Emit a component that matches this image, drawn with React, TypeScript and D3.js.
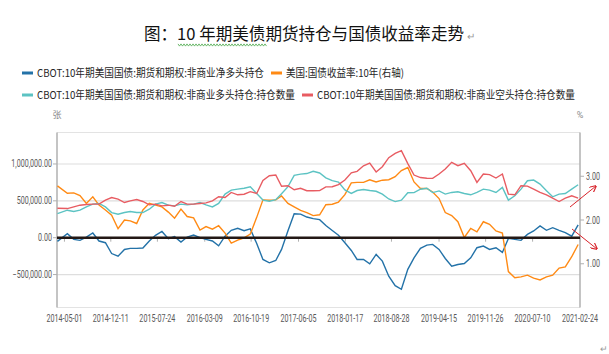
import * as d3 from "d3";

const width = 609;
const height = 354;
const margin = { top: 132.5, right: 29, bottom: 46.5, left: 57 };

// monthly readings (thousand contracts), Apr 2014 .. Feb 2021
const netLongK = [
  -50, 55, -23, -36, 9, 64, -45, -68, -215, -250, -160, -145, -145, -140, -45, 32, 85, -14, 14, -60,
  9, 35, 0, -23, -45, -110, 20, 100, 127, 95, 120, -80, -295, -341, -309, -159, 95, 325, 320, 280,
  258, 245, 165, 98, 33, -68, -173, -295, -295, -355, -227, -318, -523, -650, -700, -430, -273, -145, -100, -91,
  -159, -282, -386, -364, -350, -273, -136, -114, -159, -136, -200, -10, -23, -36, 45, 91, 159, 100, 136, 100,
  68, 20, 173,
];
const longPosK = [
  327, 373, 355, 373, 418, 455, 464, 418, 341, 318, 341, 355, 341, 341, 386, 455, 477, 441, 432, 455,
  445, 455, 477, 445, 418, 464, 591, 645, 659, 670, 690, 600, 510, 495, 515, 595, 692, 845, 862, 870,
  900, 878, 812, 774, 755, 648, 600, 640, 653, 640, 630, 590, 525, 490, 510, 610, 612, 658, 671, 612,
  635, 591, 614, 623, 600, 582, 614, 659, 645, 614, 682, 509, 568, 659, 773, 782, 727, 636, 555, 591,
  600, 659, 718,
];
const shortPosK = [
  400, 395, 418, 441, 450, 455, 455, 509, 545, 523, 477, 500, 518, 491, 445, 455, 432, 441, 427, 491,
  455, 455, 464, 473, 500, 555, 545, 614, 582, 590, 625, 600, 778, 840, 850, 698, 705, 650, 670, 637,
  637, 639, 690, 692, 720, 782, 880, 900, 975, 1011, 891, 963, 1086, 1144, 1180, 1005, 850, 816, 807, 805,
  864, 932, 1023, 977, 1010, 909, 750, 864, 855, 809, 864, 591, 582, 705, 700, 659, 614, 582, 536, 491,
  536, 568, 536,
];
const yield10y = [
  2.78, 2.61, 2.62, 2.56, 2.38, 2.53, 2.34, 2.23, 2.11, 1.8, 2.0, 1.98, 1.92, 2.23, 2.38, 2.34, 2.3, 2.18, 2.04, 2.25,
  2.08, 2.05, 1.77, 1.85, 1.79, 1.87, 1.7, 1.47, 1.54, 1.59, 1.68, 2.06, 2.46, 2.45, 2.46, 2.55, 2.38, 2.3, 2.22, 2.17,
  2.1, 2.12, 2.35, 2.36, 2.41, 2.58, 2.85, 2.86, 2.86, 2.92, 2.87, 2.91, 2.92, 2.99, 3.13, 3.2, 2.87, 2.72, 2.72, 2.64,
  2.49, 2.17, 2.1, 1.96, 1.6, 1.81, 1.73, 1.96, 1.9, 1.75, 1.7, 0.82, 0.68, 0.7, 0.74, 0.67, 0.63, 0.7, 0.74, 0.9,
  0.93, 1.16, 1.44,
];

const xTickLabels = [
  "2014-05-01", "2014-12-11", "2015-07-24", "2016-03-09", "2016-10-19", "2017-06-05",
  "2018-01-17", "2018-08-28", "2019-04-15", "2019-11-26", "2020-07-10", "2021-02-24",
];
const leftTicks = [-500, 0, 500, 1000];
const rightTicks = [1, 2, 3];

const title = "图：10 年期美债期货持仓与国债收益率走势";
const seriesNames = [
  "CBOT:10年期美国国债:期货和期权:非商业净多头持仓",
  "美国:国债收益率:10年(右轴)",
  "CBOT:10年期美国国债:期货和期权:非商业多头持仓:持仓数量",
  "CBOT:10年期美国国债:期货和期权:非商业空头持仓:持仓数量",
];
const colors = { net: "#2372a8", yld: "#ff8a14", long: "#5cc3c3", short: "#e85c62" };

const parse = d3.timeParse("%Y-%m-%d");
const dates = netLongK.map((_, i) =>
  i === 0 ? new Date(2014, 2, 28) : d3.timeMonth.offset(new Date(2014, 3, 15), i)
);

const axisFont = "Roboto, 'Noto Sans', sans-serif";
const cjkFont = "'Noto Sans CJK SC', sans-serif";

// narrow tick text (the original uses a condensed face)
const NarrowText = ({ x, y, anchor, children }: { x: number; y: number; anchor?: string; children: string }) => (
  <text
    transform={`translate(${x},${y}) scale(0.68,1)`}
    fontFamily={axisFont}
    fontSize={10.5}
    fill="#595959"
    textAnchor={anchor ?? "start"}
  >
    {children}
  </text>
);

const App = () => {
  const x = d3
    .scaleTime()
    .domain([new Date(2014, 2, 26), new Date(2021, 1, 24)])
    .range([margin.left, width - margin.right]);
  const yLeft = d3
    .scaleLinear()
    .domain([-947, 1427])
    .range([height - margin.bottom, margin.top]);
  const yRight = d3
    .scaleLinear()
    .domain([0, 4])
    .range([height - margin.bottom, margin.top]);

  const leftLine = (vals: number[]) =>
    d3
      .line<number>()
      .x((_, i) => x(dates[i]))
      .y((d) => yLeft(d))(vals) ?? undefined;
  const rightLine =
    d3
      .line<number>()
      .x((_, i) => x(dates[i]))
      .y((d) => yRight(d))(yield10y) ?? undefined;

  const fmtLeft = d3.format(",.2f");
  const fmtRight = d3.format(".2f");
  const x0 = margin.left;
  const x1 = width - margin.right;
  const yTop = margin.top;
  const yBot = height - margin.bottom;

  // squiggle under part of the title
  const wave = d3.range(178, 268, 1.5).map((px, i) => [px, 45 + (i % 2 ? 1.1 : -1.1)] as [number, number]);

  const legend = [
    { name: seriesNames[0], color: colors.net, mx: 22, tx: 37, tw: 227, y: 73 },
    { name: seriesNames[1], color: colors.yld, mx: 271, tx: 286, tw: 118, y: 73 },
    { name: seriesNames[2], color: colors.long, mx: 22, tx: 37, tw: 258, y: 95 },
    { name: seriesNames[3], color: colors.short, mx: 302, tx: 317, tw: 258, y: 95 },
  ];

  const arrows = [
    { from: [570, 207], to: [596, 186] },
    { from: [572, 229], to: [597, 249] },
  ];

  return (
    <svg
      width={width}
      height={height}
      style={{ position: "absolute", left: 0, top: 0, background: "#fff" }}
    >
      <defs>
        <marker id="ah" viewBox="0 0 10 10" refX="9" refY="5" markerWidth="7" markerHeight="7" orient="auto">
          <path d="M0,0 L10,5 L0,10" fill="none" stroke="#d8232a" strokeWidth="1.6" />
        </marker>
      </defs>

      {/* title */}
      <text x={144} y={40} fontFamily={cjkFont} fontSize={16.5} fill="#111" textLength={320} lengthAdjust="spacingAndGlyphs">
        {title}
      </text>
      <text x={467} y={40} fontFamily={cjkFont} fontSize={10} fill="#999">↵</text>
      <path d={d3.line()(wave) ?? undefined} fill="none" stroke="#4aa84a" strokeWidth={0.8} />

      {/* legend */}
      {legend.map((l) => (
        <g key={l.name}>
          <line x1={l.mx} x2={l.mx + 11} y1={l.y} y2={l.y} stroke={l.color} strokeWidth={3} />
          <text
            x={l.tx}
            y={l.y + 4}
            fontFamily={cjkFont}
            fontSize={11}
            fill="#262626"
            textLength={l.tw}
            lengthAdjust="spacingAndGlyphs"
          >
            {l.name}
          </text>
        </g>
      ))}

      {/* units */}
      <text x={x0} y={118} fontFamily={cjkFont} fontSize={9} fill="#8c8c8c" textAnchor="middle">张</text>
      <text x={x1} y={118} fontFamily={axisFont} fontSize={9} fill="#8c8c8c" textAnchor="middle">%</text>

      {/* frame and grid */}
      <line x1={x0} x2={x1} y1={yTop} y2={yTop} stroke="#e3e3e3" strokeWidth={1.2} />
      <line x1={x0} x2={x1} y1={yBot} y2={yBot} stroke="#e3e3e3" strokeWidth={1.2} />
      {leftTicks
        .filter((t) => t !== 0)
        .map((t) => (
          <line key={t} x1={x0} x2={x1} y1={yLeft(t)} y2={yLeft(t)} stroke="#dedede" strokeWidth={1.2} />
        ))}

      {/* left axis */}
      <line x1={x0} x2={x0} y1={yTop} y2={yBot} stroke="#b0b0b0" strokeWidth={1.5} />
      {leftTicks.map((t) => (
        <g key={t}>
          <line x1={x0 - 4} x2={x0} y1={yLeft(t)} y2={yLeft(t)} stroke="#b0b0b0" />
          <NarrowText x={x0 - 5} y={yLeft(t) + 3.5} anchor="end">
            {fmtLeft(t * 1000)}
          </NarrowText>
        </g>
      ))}

      {/* right axis */}
      <line x1={x1} x2={x1} y1={yTop} y2={yBot} stroke="#b0b0b0" strokeWidth={1.5} />
      {rightTicks.map((t) => (
        <g key={t}>
          <line x1={x1} x2={x1 + 4} y1={yRight(t)} y2={yRight(t)} stroke="#b0b0b0" />
          <NarrowText x={x1 + 6} y={yRight(t) + 3.5}>{fmtRight(t)}</NarrowText>
        </g>
      ))}

      {/* x labels */}
      {xTickLabels.map((s) => {
        const d = parse(s) as Date;
        return (
          <g key={s}>
            <line x1={x(d)} x2={x(d)} y1={yLeft(0)} y2={yLeft(0) + 4} stroke="#b0b0b0" />
            <NarrowText x={x(d)} y={yBot + 14} anchor="middle">
              {s}
            </NarrowText>
          </g>
        );
      })}

      {/* series */}
      <path d={leftLine(netLongK)} fill="none" stroke={colors.net} strokeWidth={1.4} />
      <path d={rightLine} fill="none" stroke={colors.yld} strokeWidth={1.4} />
      <path d={leftLine(longPosK)} fill="none" stroke={colors.long} strokeWidth={1.4} />
      <path d={leftLine(shortPosK)} fill="none" stroke={colors.short} strokeWidth={1.4} />

      {/* zero line */}
      <line x1={x0} x2={x1} y1={yLeft(0)} y2={yLeft(0)} stroke="#231815" strokeWidth={2.4} />

      {/* annotation arrows */}
      {arrows.map((a, i) => (
        <line
          key={i}
          x1={a.from[0]}
          y1={a.from[1]}
          x2={a.to[0]}
          y2={a.to[1]}
          stroke="#d8232a"
          strokeWidth={1}
          markerEnd="url(#ah)"
        />
      ))}

      <text x={600} y={352} fontFamily={cjkFont} fontSize={9} fill="#999">↵</text>
    </svg>
  );
};

export default App;
